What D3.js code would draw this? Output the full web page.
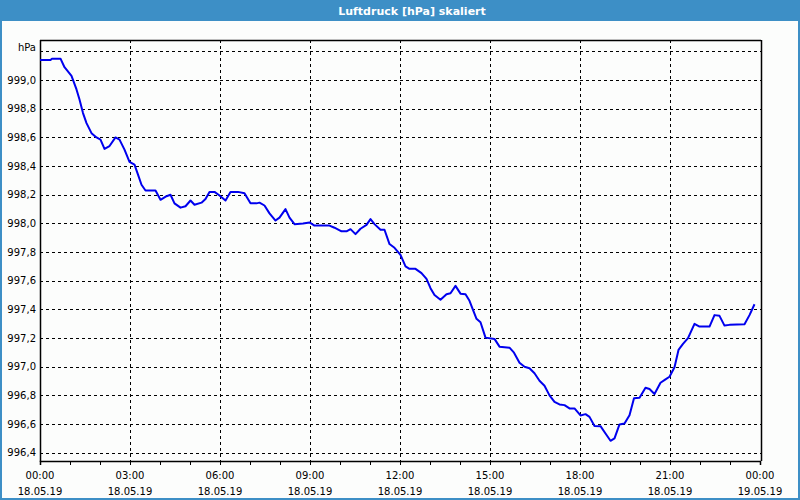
<!DOCTYPE html>
<html><head><meta charset="utf-8">
<script src="https://cdn.jsdelivr.net/npm/d3@7"></script>
<style>html,body{margin:0;padding:0;background:#fff;}svg{display:block;}</style>
</head><body>
<svg id="c" width="800" height="500"></svg>
<script>
const title = "Luftdruck [hPa] skaliert";
const unitLabel = "hPa";
// minutes since 18.05.19 00:00
const minutes = [0,21,24,41,49,63,73,79,86,93,103,113,121,129,139,151,159,169,179,189,196,203,211,231,241,253,261,269,281,291,301,309,323,331,339,349,359,371,381,396,409,421,433,439,449,459,471,479,491,499,509,526,539,549,579,589,603,613,621,631,641,653,661,669,681,689,699,709,721,731,739,751,763,773,781,789,801,813,821,831,841,851,859,866,873,881,891,909,919,939,948,959,969,979,989,999,1009,1019,1029,1039,1049,1059,1069,1081,1091,1099,1109,1121,1131,1141,1149,1159,1169,1179,1188,1199,1211,1219,1229,1241,1251,1259,1269,1277,1286,1296,1309,1319,1339,1349,1359,1369,1379,1409,1419,1429];
const pressure = [999.14,999.14,999.15,999.15,999.09,999.03,998.935,998.865,998.77,998.70,998.63,998.60,998.585,998.52,998.54,998.60,998.585,998.515,998.43,998.41,998.34,998.27,998.23,998.23,998.165,998.19,998.20,998.14,998.11,998.12,998.16,998.13,998.145,998.17,998.22,998.22,998.195,998.16,998.22,998.22,998.21,998.14,998.14,998.145,998.125,998.07,998.02,998.04,998.10,998.04,997.995,998.0,998.007,997.985,997.985,997.97,997.945,997.945,997.96,997.925,997.963,997.99,998.03,997.995,997.956,997.956,997.856,997.83,997.78,997.70,997.683,997.683,997.653,997.613,997.548,997.50,997.467,997.506,997.513,997.564,997.51,997.506,997.46,997.397,997.334,997.31,997.203,997.194,997.14,997.133,997.098,997.028,997.0,996.989,996.954,996.902,996.867,996.80,996.755,996.737,996.732,996.709,996.709,996.66,996.669,996.65,996.587,996.585,996.534,996.483,996.50,996.597,996.604,996.662,996.78,996.783,996.853,996.844,996.81,996.888,996.912,996.93,996.996,997.117,997.159,997.199,997.299,997.28,997.28,997.36,997.355,997.287,997.292,997.296,997.36,997.436];
const yTicks = [996.4,996.6,996.8,997.0,997.2,997.4,997.6,997.8,998.0,998.2,998.4,998.6,998.8,999.0,999.2];
const xTickMinutes = [0,180,360,540,720,900,1080,1260,1440];
const xTimeLabels = ["00:00","03:00","06:00","09:00","12:00","15:00","18:00","21:00","00:00"];
const xDateLabels = ["18.05.19","18.05.19","18.05.19","18.05.19","18.05.19","18.05.19","18.05.19","18.05.19","19.05.19"];
const hourTicks = d3.range(0, 1441, 60);

const W = 800, H = 500;
const L = 40, R = 761, T = 40, B = 461;
const svg = d3.select("#c");
const font = "DejaVu Sans, Verdana, sans-serif";
const frameColor = "#3d8fc6";

svg.append("rect").attr("x",0).attr("y",0).attr("width",W).attr("height",H).attr("fill",frameColor);
svg.append("rect").attr("x",2).attr("y",21).attr("width",W-4).attr("height",H-23).attr("fill","#fcfdfc");
svg.append("text").attr("x",412).attr("y",14.5).attr("text-anchor","middle")
  .attr("fill","#fff").attr("font-family",font).attr("font-weight","bold").attr("font-size",11)
  .text(title);

const x = d3.scaleLinear().domain([0,1440]).range([L,760]);
const y = d3.scaleLinear().domain([996.342,999.28]).range([B,T]);
const fmt = d3.formatLocale({decimal:",",thousands:".",grouping:[3],currency:["","€"]}).format(".1f");

// grid
const g = svg.append("g");
g.selectAll("line.h").data(yTicks).join("line")
  .attr("x1",L).attr("x2",R).attr("y1",d=>Math.round(y(d))+0.5).attr("y2",d=>Math.round(y(d))+0.5)
  .attr("stroke","#000").attr("stroke-dasharray","3,3").attr("shape-rendering","crispEdges");
g.selectAll("line.v").data(xTickMinutes.slice(1,-1)).join("line")
  .attr("x1",d=>Math.round(x(d))+0.5).attr("x2",d=>Math.round(x(d))+0.5).attr("y1",T).attr("y2",B)
  .attr("stroke","#000").attr("stroke-dasharray","3,3").attr("shape-rendering","crispEdges");

// frame lines
svg.append("line").attr("x1",L+0.5).attr("x2",L+0.5).attr("y1",T).attr("y2",B+1).attr("stroke","#000").attr("stroke-width",1.5);
svg.append("line").attr("x1",L).attr("x2",R).attr("y1",T+0.5).attr("y2",T+0.5).attr("stroke","#000").attr("stroke-width",1.5);
svg.append("line").attr("x1",R+0.5).attr("x2",R+0.5).attr("y1",T).attr("y2",B).attr("stroke","#000").attr("stroke-width",1.5);

// x axis
const xa = svg.append("g").attr("transform",`translate(0,${B})`)
  .call(d3.axisBottom(x).tickValues(hourTicks).tickSize(4).tickFormat(""));
xa.select(".domain").attr("stroke","#000").attr("stroke-width",1.5);
xa.selectAll(".tick line").attr("stroke","#000");
const lab = svg.append("g").attr("font-family",font).attr("font-size",10).attr("fill","#000").attr("text-anchor","middle");
lab.selectAll("text.t").data(xTickMinutes).join("text").attr("x",d=>x(d)).attr("y",479).text((d,i)=>xTimeLabels[i]);
lab.selectAll("text.d").data(xTickMinutes).join("text").attr("x",d=>x(d)).attr("y",495).text((d,i)=>xDateLabels[i]);

// y axis labels
const ya = svg.append("g").attr("transform",`translate(${L},0)`)
  .call(d3.axisLeft(y).tickValues(yTicks.slice(0,-1)).tickSize(0).tickPadding(4).tickFormat(fmt));
ya.select(".domain").remove();
ya.selectAll("text").attr("font-family",font).attr("font-size",10).attr("fill","#000");
svg.append("text").attr("x",36).attr("y",51).attr("text-anchor","end")
  .attr("font-family",font).attr("font-size",10).attr("fill","#000").text(unitLabel);

// line
const line = d3.line().x((d,i)=>x(minutes[i])).y(d=>y(d));
svg.append("path").datum(pressure).attr("d",line).attr("fill","none")
  .attr("stroke","#0000ee").attr("stroke-width",2).attr("stroke-linejoin","round");
</script>
</body></html>
